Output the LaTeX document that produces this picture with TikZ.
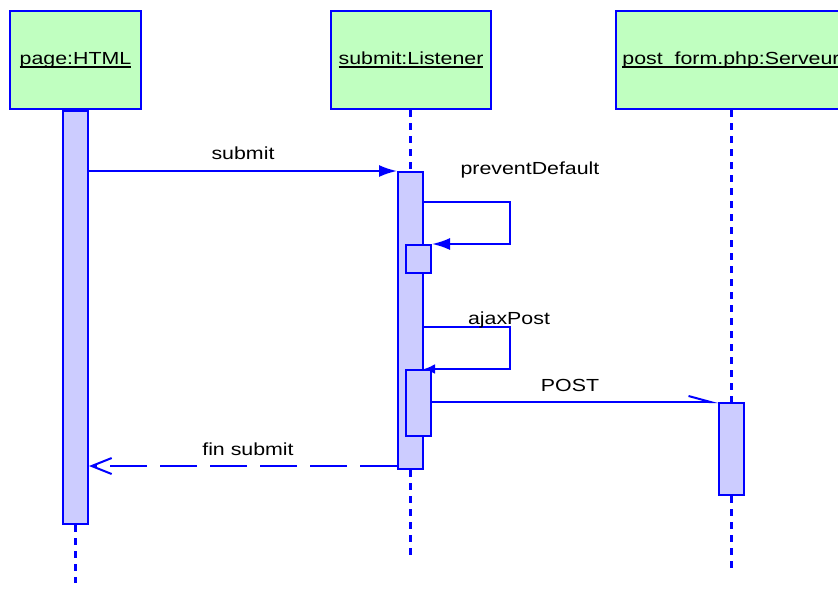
\documentclass[tikz,border=0pt]{standalone}
\usepackage{fontspec}
\setmainfont{Liberation Sans}
\usetikzlibrary{arrows.meta}
\definecolor{objgreen}{HTML}{C0FFC0}
\definecolor{actblue}{HTML}{CCCCFF}
\definecolor{umlblue}{HTML}{0000FF}
\newcommand{\wtxt}[1]{\scalebox{1.22}[1]{#1}}
\newcommand{\objname}[1]{\sbox0{#1}\rlap{\rule[-3.5pt]{\wd0}{1.8pt}}\usebox0}
\begin{document}
\begin{tikzpicture}[x=1pt, y=-1pt,
    every node/.style={font=\fontsize{17.5}{20}\selectfont, inner sep=0pt},
    obj/.style={draw=umlblue, fill=objgreen, line width=2.5pt, minimum width=#1, minimum height=98pt},
    act/.style={draw=umlblue, fill=actblue, line width=2pt, minimum width=25pt, minimum height=#1},
    life/.style={draw=umlblue, line width=2.2pt, dash pattern=on 7pt off 6pt},
    msg/.style={draw=umlblue, line width=2pt}]
    \clip (0,0) rectangle (838,589);
    % objects
    \node[obj=131pt] (pobj) at (75.5,60) {\wtxt{\objname{page:HTML}}};
    \node[obj=160pt] (lobj) at (411,60) {\wtxt{\objname{submit:Listener}}};
    \node[obj=230pt] (sobj) at (731,60) {\wtxt{\objname{post\_form.php:Serveur}}};
    \coordinate (pend) at (75.5,583);
    \coordinate (lend) at (410.5,560);
    \coordinate (send) at (731.5,568);
    % activations
    \node[act=413pt] (pa) at (75.5,317.5) {};
    \node[act=297pt] (la) at (410.5,320.5) {};
    \node[act=28pt] (a1) at (418.5,259) {};
    \node[act=66pt] (a2) at (418.5,403) {};
    \node[act=92pt] (sa) at (731.5,449) {};
    \draw[life] (pa.south) -- (pend);
    \draw[life] (lobj.south -| la.north) -- (la.north);
    \draw[life] (la.south) -- (lend);
    \draw[life] (sobj.south -| sa.north) -- (sa.north);
    \draw[life] (sa.south) -- (send);
    % messages
    \draw[msg, -{Latex[length=18pt,width=12pt]}] (pa.east |- la.north) -- (la.north west);
    \draw[msg, -{Latex[length=18pt,width=12pt]}] (la.east |- 0,202) -- ++(86,0) |- (a1.north east);
    \draw[msg, -{Latex[length=11pt,width=10pt]}] (la.east |- 0,327) -- ++(86,0) |- (a2.north west -| la.east);
    \draw[msg, -{Straight Barb[left,length=22pt,width=12pt]}] (a2.east |- sa.north) -- (sa.north west);
    \draw[msg, dash pattern=on 37pt off 13pt, -{Straight Barb[length=20pt,width=16pt]}] (la.south west |- 0,466) -- (pa.east |- 0,466);
    % labels
    \node (msubmit) at (243,153) {\wtxt{submit}};
    \node (mprevent) at (530,170) {\wtxt{preventDefault}};
    \node (majax) at (509,320) {\wtxt{ajaxPost}};
    \node (mpost) at (570,385) {\wtxt{POST}};
    \node (mfin) at (248,449) {\wtxt{fin submit}};
\end{tikzpicture}
\end{document}
